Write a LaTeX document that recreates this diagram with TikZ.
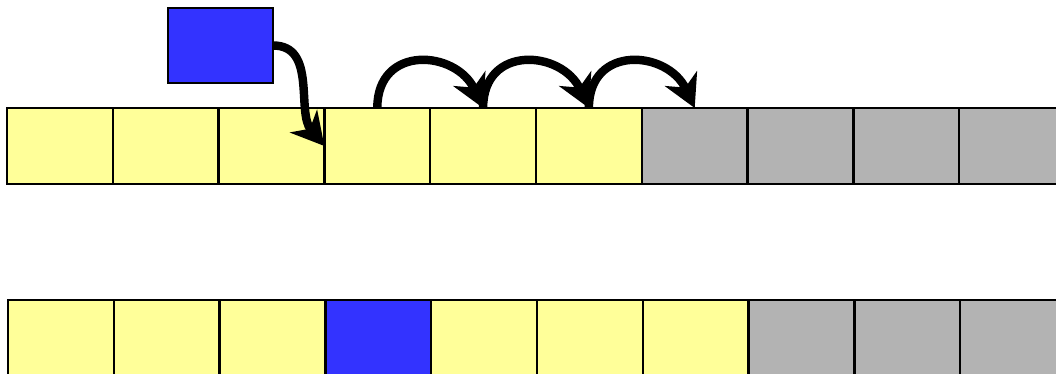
\documentclass[tikz,border=0pt]{standalone}
\usepackage{tikz}
\usetikzlibrary{arrows.meta,positioning}

\definecolor{cellyellow}{RGB}{255,255,153}
\definecolor{cellblue}{RGB}{51,51,255}
\definecolor{cellgrey}{RGB}{179,179,179}

\tikzset{
    cell/.style={draw, line width=1.6pt, minimum width=2.645cm, minimum height=1.9cm, inner sep=0pt, outer sep=0pt},
    jump/.style={line width=6pt, -{Stealth[length=23pt,width=25pt,inset=7pt]}}
}

\begin{document}
\begin{tikzpicture}
                \useasboundingbox (0,0) rectangle (26.4,-9.35);
                \clip (0,0) rectangle (26.4,-9.35);

                % Top row
                \node[cell, fill=cellyellow] (t1) at (1.4975,-3.65) {};
                \foreach \i/\j in {2/1,3/2,4/3,5/4,6/5}
                    \node[cell, fill=cellyellow, right=0pt of t\j] (t\i) {};
                \foreach \i/\j in {7/6,8/7,9/8,10/9}
                    \node[cell, fill=cellgrey, right=0pt of t\j] (t\i) {};

                % Element to insert
                \node[cell, fill=cellblue, minimum width=2.625cm, minimum height=1.875cm] (new) at (5.5125,-1.1375) {};

                % Insertion and shifts
                \draw[jump] (new.east) to[out=0,in=130] (t4.west);
                \draw[jump] (t4.north) to[out=90,in=115,looseness=1.55] (t5.north);
                \draw[jump] (t5.north) to[out=90,in=115,looseness=1.55] (t6.north);
                \draw[jump] (t6.north) to[out=90,in=115,looseness=1.55] (t7.north);

                % Bottom row
                \node[cell, fill=cellyellow] (b1) at (1.5225,-8.45) {};
                \node[cell, fill=cellyellow, right=0pt of b1] (b2) {};
                \node[cell, fill=cellyellow, right=0pt of b2] (b3) {};
                \node[cell, fill=cellblue, right=0pt of b3] (b4) {};
                \foreach \i/\j in {5/4,6/5,7/6}
                    \node[cell, fill=cellyellow, right=0pt of b\j] (b\i) {};
                \foreach \i/\j in {8/7,9/8,10/9}
                    \node[cell, fill=cellgrey, right=0pt of b\j] (b\i) {};
            \end{tikzpicture}
\end{document}
